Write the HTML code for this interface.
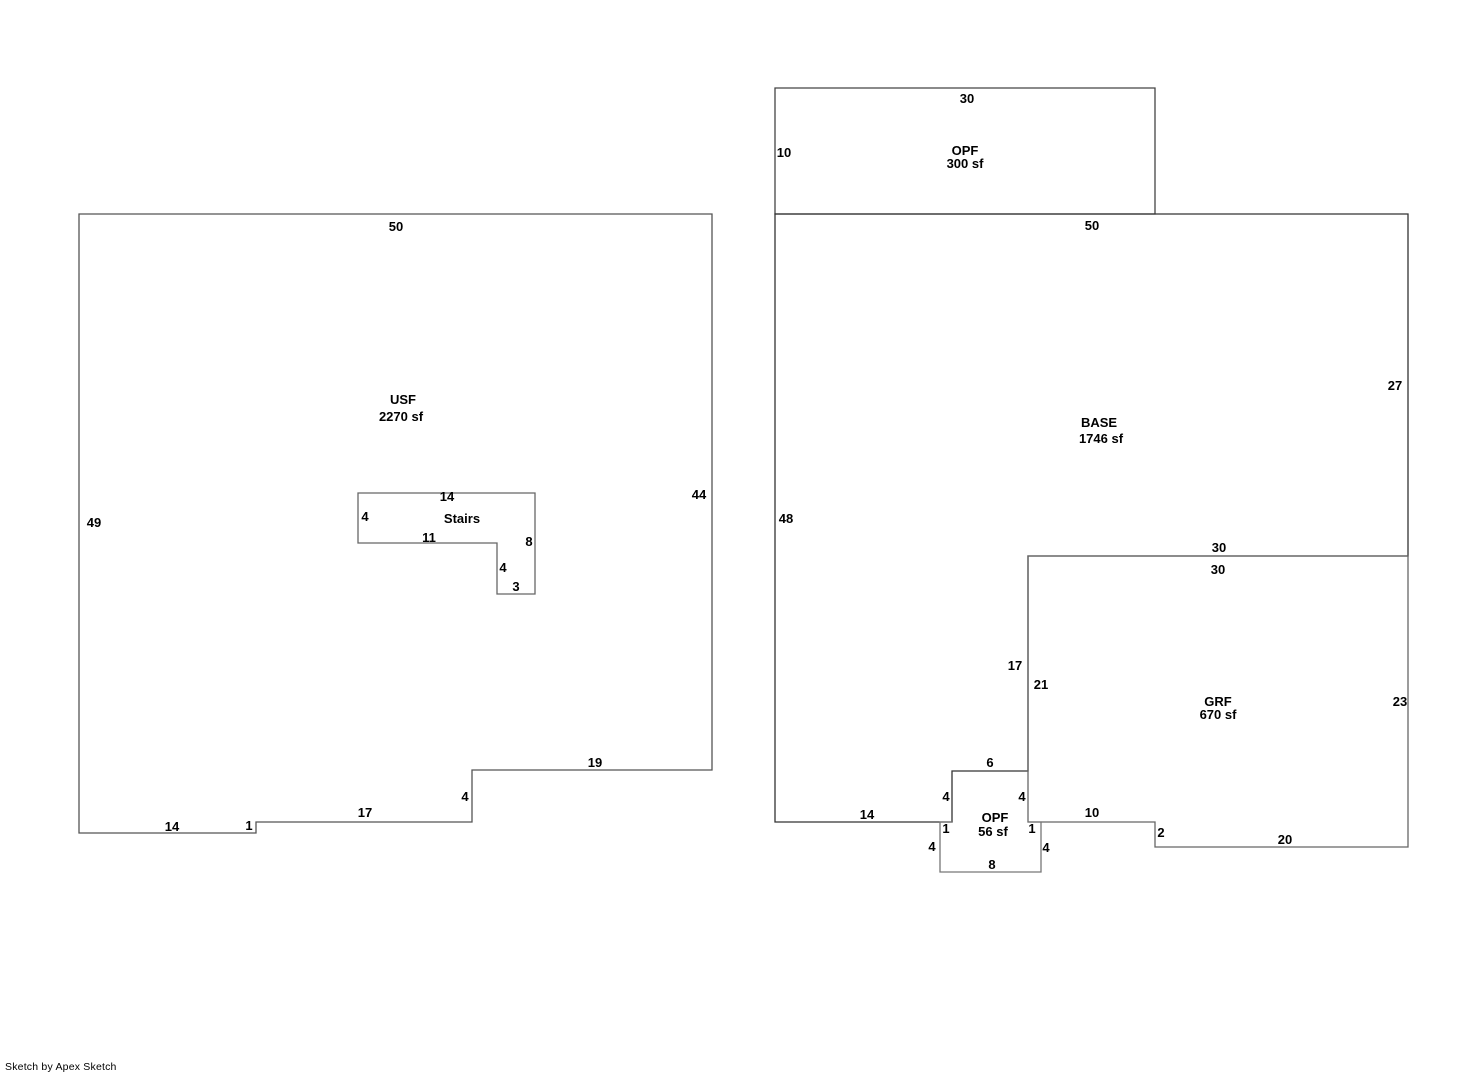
<!DOCTYPE html>
<html><head><style>body{margin:0;background:#fff}svg{display:block}text{font-family:"Liberation Sans",Arial,sans-serif;font-weight:bold;font-size:13px;fill:#000}</style></head><body>
<svg width="1461" height="1072" viewBox="0 0 1461 1072">
<g fill="none" stroke-width="1.3">
<polygon stroke="#555" points="79,214 712,214 712,770 472,770 472,822 256,822 256,833 79,833"/>
<polygon stroke="#666" points="358,493 535,493 535,594 497,594 497,543 358,543"/>
<polygon stroke="#444" points="775,88 1155,88 1155,214 775,214"/>
<polygon stroke="#333" points="775,214 1408,214 1408,556 1028,556 1028,771 952,771 952,822 775,822"/>
<polygon stroke="#666" points="1028,556 1408,556 1408,847 1155,847 1155,822 1028,822"/>
<polyline stroke="#777" points="952,822 940,822 940,872 1041,872 1041,822 1028,822"/>
</g>
<g text-anchor="middle">
<text x="396" y="231">50</text>
<text x="403" y="404" font-size="15">USF</text>
<text x="401" y="421" font-size="14">2270 sf</text>
<text x="94" y="527">49</text>
<text x="699" y="499">44</text>
<text x="447" y="501">14</text>
<text x="365" y="521">4</text>
<text x="462" y="523" font-size="14">Stairs</text>
<text x="429" y="542">11</text>
<text x="529" y="546">8</text>
<text x="503" y="572">4</text>
<text x="516" y="591">3</text>
<text x="595" y="767">19</text>
<text x="465" y="801">4</text>
<text x="365" y="817">17</text>
<text x="172" y="831">14</text>
<text x="249" y="830">1</text>
<text x="967" y="103">30</text>
<text x="784" y="157">10</text>
<text x="965" y="155" font-size="15">OPF</text>
<text x="965" y="168" font-size="14">300 sf</text>
<text x="1092" y="230">50</text>
<text x="1395" y="390">27</text>
<text x="1099" y="427" font-size="15">BASE</text>
<text x="1101" y="443" font-size="14">1746 sf</text>
<text x="786" y="523">48</text>
<text x="1219" y="552">30</text>
<text x="1218" y="574">30</text>
<text x="1015" y="670">17</text>
<text x="1041" y="689">21</text>
<text x="1218" y="706" font-size="15">GRF</text>
<text x="1218" y="719" font-size="14">670 sf</text>
<text x="1400" y="706">23</text>
<text x="990" y="767">6</text>
<text x="946" y="801">4</text>
<text x="1022" y="801">4</text>
<text x="995" y="822" font-size="15">OPF</text>
<text x="993" y="836" font-size="14">56 sf</text>
<text x="867" y="819">14</text>
<text x="1092" y="817">10</text>
<text x="946" y="833">1</text>
<text x="1032" y="833">1</text>
<text x="1161" y="837">2</text>
<text x="932" y="851">4</text>
<text x="1046" y="852">4</text>
<text x="992" y="869">8</text>
<text x="1285" y="844">20</text>
</g>
<text x="5" y="1070" style="font-weight:normal;font-size:10.5px;letter-spacing:0.2px">Sketch by Apex Sketch</text>
</svg>
</body></html>
